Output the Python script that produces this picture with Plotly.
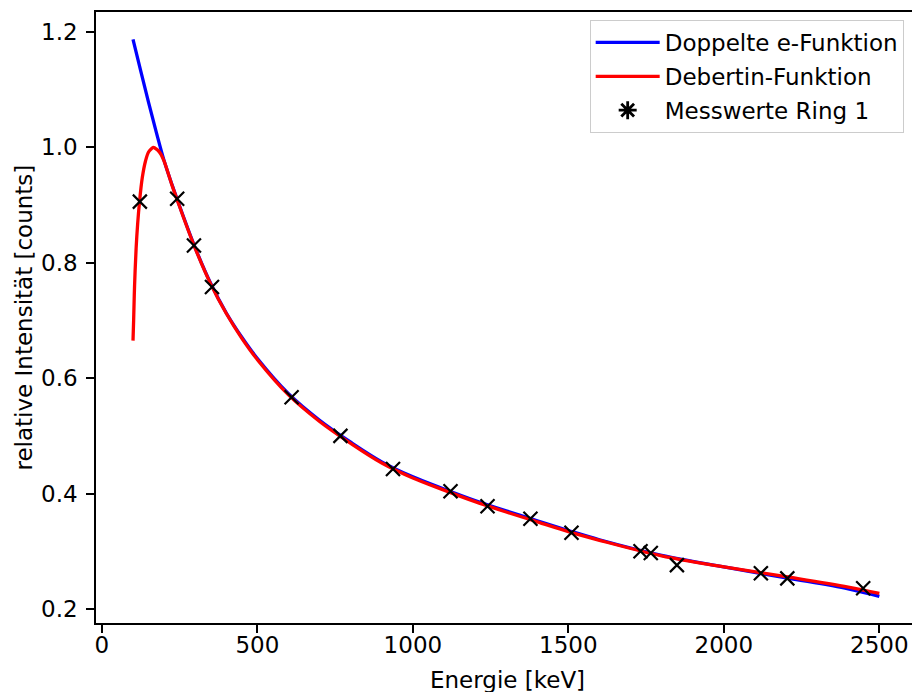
import plotly.graph_objects as go

# Measured points (Messwerte Ring 1)
energy_points = [122, 242, 296, 354, 610, 767, 936, 1121, 1240, 1378, 1510, 1732, 1765, 1849, 2119, 2204, 2448]
intensity_points = [0.906, 0.911, 0.830, 0.758, 0.567, 0.500, 0.4425, 0.404, 0.378, 0.3565, 0.332, 0.300, 0.297, 0.276, 0.262, 0.253, 0.236]

# Doppelte e-Funktion
energy_blue = [100, 125, 150, 175, 200, 225, 250, 300, 350, 400, 450, 500, 600, 700, 800, 900, 1000,
               1100, 1200, 1300, 1400, 1500, 1600, 1800, 2000, 2200, 2400, 2500]
intensity_blue = [1.187, 1.132, 1.078, 1.026, 0.977, 0.936, 0.898, 0.826, 0.764, 0.713, 0.671, 0.634, 0.573,
                  0.527, 0.489, 0.455, 0.429, 0.408, 0.388, 0.370, 0.353, 0.336, 0.320, 0.293, 0.273, 0.254,
                  0.235, 0.222]

# Debertin-Funktion
energy_red = [100, 102, 105, 110, 115, 121, 130, 140, 150, 160, 165, 170, 180, 190, 200, 225, 250, 300, 350,
              400, 450, 500, 600, 700, 800, 900, 1000, 1100, 1200, 1300, 1400, 1500, 1600, 1800, 2000, 2200,
              2400, 2500]
intensity_red = [0.665, 0.700, 0.760, 0.825, 0.868, 0.906, 0.948, 0.976, 0.992, 0.998, 1.000, 0.999, 0.995,
                 0.988, 0.976, 0.935, 0.897, 0.825, 0.763, 0.712, 0.669, 0.632, 0.571, 0.525, 0.487, 0.453,
                 0.427, 0.406, 0.386, 0.368, 0.351, 0.334, 0.319, 0.292, 0.273, 0.256, 0.238, 0.227]

legend_names = ["Doppelte e-Funktion", "Debertin-Funktion", "Messwerte Ring 1"]
x_title = "Energie [keV]"
y_title = "relative Intensität [counts]"
x_ticks = [0, 500, 1000, 1500, 2000, 2500]
y_ticks = [0.2, 0.4, 0.6, 0.8, 1.0, 1.2]

FONT = "DejaVu Sans"
FS = 23

fig = go.Figure()
fig.add_trace(go.Scatter(x=energy_blue, y=intensity_blue, mode="lines", name=legend_names[0],
                         line=dict(color="#0000ff", width=3.3, shape="spline"), legendgroup="a"))
fig.add_trace(go.Scatter(x=energy_red, y=intensity_red, mode="lines", name=legend_names[1],
                         line=dict(color="#ff0000", width=3.3, shape="spline"), legendgroup="b"))
fig.add_trace(go.Scatter(x=energy_points, y=intensity_points, mode="markers", name=legend_names[2],
                         marker=dict(symbol="x-thin", size=14, color="black",
                                     line=dict(color="black", width=2.2)),
                         showlegend=False))
# legend-only entry with asterisk symbol
fig.add_trace(go.Scatter(x=[None], y=[None], mode="markers", name=legend_names[2],
                         marker=dict(symbol="asterisk-open", size=15, color="black",
                                     line=dict(color="black", width=2.8)), legendgroup="c"))

fig.update_layout(
    width=912, height=692,
    margin=dict(l=96, r=0, t=12, b=69, autoexpand=False),
    paper_bgcolor="white", plot_bgcolor="white",
    font=dict(family=FONT, size=FS, color="black"),
    showlegend=True,
    legend=dict(x=0.605, y=0.987, xanchor="left", yanchor="top",
                bgcolor="white", bordercolor="#cccccc", borderwidth=1,
                font=dict(family=FONT, size=FS, color="black"),
                tracegroupgap=1, itemwidth=64),
    xaxis=dict(range=[-19, 2605], tickvals=x_ticks, ticktext=[str(v) for v in x_ticks],
               showgrid=False, zeroline=False, showline=True, linecolor="black", linewidth=1.8,
               mirror=True, ticks="outside", ticklen=7.8, tickwidth=1.8, tickcolor="black",
               ticklabelstandoff=-7,
               tickfont=dict(family=FONT, size=FS, color="black")),
    yaxis=dict(range=[0.1757, 1.2346], tickvals=y_ticks, ticktext=[f"{v:.1f}" for v in y_ticks],
               showgrid=False, zeroline=False, showline=True, linecolor="black", linewidth=1.8,
               mirror=False, ticks="outside", ticklen=7.8, tickwidth=1.8, tickcolor="black",
               ticklabelstandoff=4,
               tickfont=dict(family=FONT, size=FS, color="black")),
    annotations=[
        dict(text=x_title, xref="paper", yref="paper", x=(507 - 96) / 816, y=-(665 - 623) / 611,
             xanchor="center", yanchor="top", showarrow=False, font=dict(family=FONT, size=FS)),
        dict(text=y_title, xref="paper", yref="paper", x=(23 - 96) / 816, y=0.5, textangle=-90,
             xanchor="center", yanchor="middle", showarrow=False, font=dict(family=FONT, size=FS)),
    ],
)

fig.write_html("out.html")
